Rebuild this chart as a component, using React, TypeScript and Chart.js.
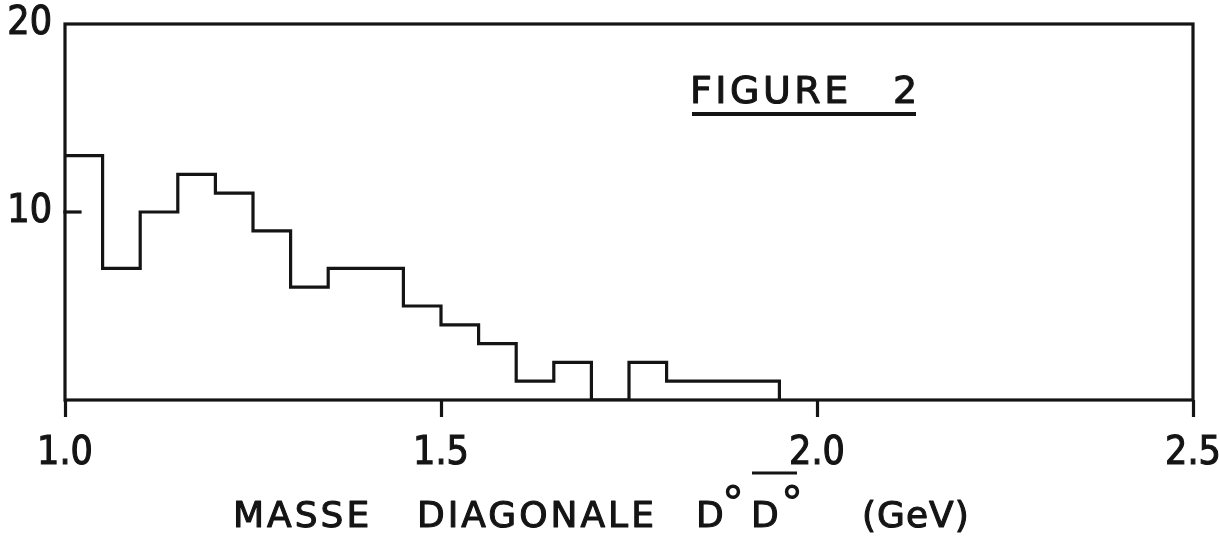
import { useEffect, useRef } from "react";
import { Chart, registerables } from "chart.js";

Chart.register(...registerables);

// ---- Data ----
const binLeftEdges = [1.0, 1.05, 1.1, 1.15, 1.2, 1.25, 1.3, 1.35, 1.4, 1.45, 1.5, 1.55, 1.6, 1.65, 1.7, 1.75, 1.8, 1.85, 1.9];
const binCounts = [13, 7, 10, 12, 11, 9, 6, 7, 7, 5, 4, 3, 1, 2, 0, 2, 1, 1, 1];
const binWidth = 0.05;
const xTickValues = [1.0, 1.5, 2.0, 2.5];
const yTickValues = [10, 20];
const xLimits = [1.0, 2.5];
const yLimits = [0, 20];
const figureWord = "FIGURE";
const figureNumber = "2";
const axisTitleWords = ["MASSE", "DIAGONALE"];
const particleSymbol = "D";
const particleCharge = "°";
const unitLabel = "(GeV)";

const INK = "#141414";
const TICK_FONT = "'DejaVu Sans Condensed', 'DejaVu Sans', sans-serif";
const TEXT_FONT = "'DejaVu Sans', sans-serif";

function buildPoints() {
  const pts = binLeftEdges.map((e, i) => ({ x: e, y: binCounts[i] }));
  const lastEdge = binLeftEdges[binLeftEdges.length - 1] + binWidth;
  pts.push({ x: lastEdge, y: 0 });
  return pts;
}

function heavyText(ctx: CanvasRenderingContext2D, text: string, x: number, y: number) {
  ctx.strokeText(text, x, y);
  ctx.fillText(text, x, y);
}

const framePlugin = {
  id: "frameAndTitles",
  afterDatasetsDraw(chart: any) {
    const { ctx, chartArea } = chart;
    const { left, right, top, bottom } = chartArea;
    const yScale = chart.scales.y;
    ctx.save();
    ctx.strokeStyle = INK;
    ctx.lineWidth = 3.2;
    ctx.lineCap = "square";
    ctx.strokeRect(left, top, right - left, bottom - top);
    // inward y tick marks
    yTickValues.forEach((v) => {
      if (v >= yLimits[1]) return;
      const py = yScale.getPixelForValue(v);
      ctx.beginPath();
      ctx.moveTo(left, py);
      ctx.lineTo(left + 15, py);
      ctx.stroke();
    });
    ctx.restore();
  },
  afterDraw(chart: any) {
    const { ctx } = chart;
    ctx.save();
    ctx.fillStyle = INK;
    ctx.strokeStyle = INK;
    ctx.lineJoin = "round";
    ctx.textBaseline = "alphabetic";
    ctx.textAlign = "left";

    // FIGURE 2 with underline
    ctx.font = `38px ${TEXT_FONT}`;
    ctx.lineWidth = 1.1;
    (ctx as any).letterSpacing = "3.5px";
    heavyText(ctx, figureWord, 690, 103);
    heavyText(ctx, figureNumber, 893, 103);
    ctx.lineWidth = 4;
    ctx.beginPath();
    ctx.moveTo(692, 114);
    ctx.lineTo(916, 114);
    ctx.stroke();

    // Axis title
    const base = 527;
    ctx.font = `36px ${TEXT_FONT}`;
    ctx.lineWidth = 1.1;
    (ctx as any).letterSpacing = "3px";
    heavyText(ctx, axisTitleWords[0], 233, base);
    heavyText(ctx, axisTitleWords[1], 417, base);
    (ctx as any).letterSpacing = "0px";
    heavyText(ctx, particleSymbol, 696, base);
    heavyText(ctx, particleSymbol, 751, base);
    (ctx as any).letterSpacing = "1px";
    heavyText(ctx, unitLabel, 862, base);
    (ctx as any).letterSpacing = "0px";
    ctx.font = `bold 44px ${TEXT_FONT}`;
    ctx.fillText(particleCharge, 722, base - 9);
    ctx.fillText(particleCharge, 781, base - 9);
    // overline over the anti-particle
    ctx.lineWidth = 3;
    ctx.beginPath();
    ctx.moveTo(752, 473);
    ctx.lineTo(797, 473);
    ctx.stroke();
    ctx.restore();
  },
};

export default function App() {
  const canvasRef = useRef<HTMLCanvasElement | null>(null);

  useEffect(() => {
    document.body.style.margin = "0";
    document.body.style.background = "#ffffff";
    const canvas = canvasRef.current;
    if (!canvas) return;
    const chart = new Chart(canvas, {
      type: "line",
      data: {
        datasets: [
          {
            data: buildPoints(),
            stepped: "before",
            borderColor: INK,
            borderWidth: 3.2,
            pointRadius: 0,
            fill: false,
            tension: 0,
          } as any,
        ],
      },
      options: {
        animation: false,
        responsive: false,
        maintainAspectRatio: false,
        layout: { padding: { top: 24, right: 27, left: 0, bottom: 0 } },
        plugins: { legend: { display: false }, tooltip: { enabled: false } },
        scales: {
          x: {
            type: "linear",
            min: xLimits[0],
            max: xLimits[1],
            afterBuildTicks: (s: any) => {
              s.ticks = xTickValues.map((v) => ({ value: v }));
            },
            grid: {
              drawOnChartArea: false,
              drawTicks: true,
              tickLength: 17,
              tickWidth: 3.2,
              tickColor: INK,
              color: INK,
            },
            border: { display: false },
            ticks: {
              callback: (v: any) => Number(v).toFixed(1),
              font: { family: TICK_FONT, size: 39 },
              color: INK,
              textStrokeColor: INK,
              textStrokeWidth: 1.1,
              padding: 13,
              maxRotation: 0,
              autoSkip: false,
            },
            afterFit: (s: any) => {
              s.height = 136;
              s.paddingLeft = 0;
              s.paddingRight = 0;
            },
          },
          y: {
            type: "linear",
            min: yLimits[0],
            max: yLimits[1],
            afterBuildTicks: (s: any) => {
              s.ticks = yTickValues.map((v) => ({ value: v }));
            },
            grid: { display: false, drawTicks: false },
            border: { display: false },
            ticks: {
              font: { family: TICK_FONT, size: 39 },
              color: INK,
              textStrokeColor: INK,
              textStrokeWidth: 1.1,
              padding: 13,
            },
            afterFit: (s: any) => {
              s.width = 65;
              s.paddingTop = 0;
              s.paddingBottom = 0;
            },
          },
        },
      } as any,
      plugins: [framePlugin],
    });
    return () => chart.destroy();
  }, []);

  return (
    <div style={{ width: 1220, height: 536 }}>
      <canvas ref={canvasRef} width={1220} height={536} style={{ display: "block" }} />
    </div>
  );
}
